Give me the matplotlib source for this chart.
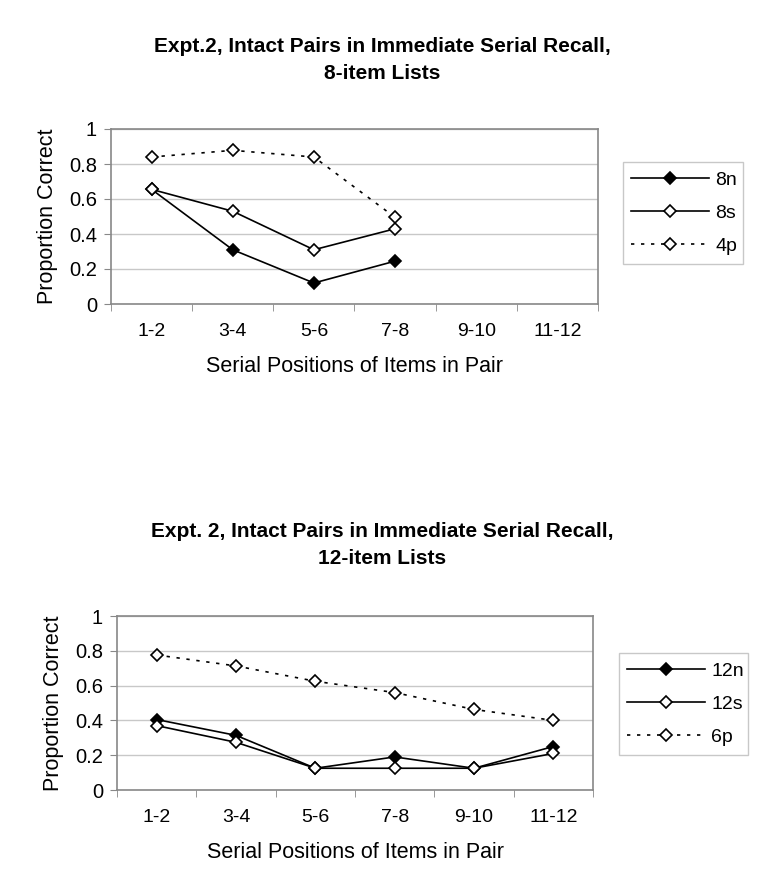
import numpy as np
import matplotlib.pyplot as plt

plt.rcParams['font.family'] = ['Liberation Sans', 'DejaVu Sans']

posiciones = ['1-2', '3-4', '5-6', '7-8', '9-10', '11-12']

# Expt. 2, listas de 8 items
n8 = [0.655, 0.31, 0.12, 0.245]
s8 = [0.655, 0.53, 0.31, 0.43]
p4 = [0.84, 0.878, 0.84, 0.495]

# Expt. 2, listas de 12 items
n12 = [0.405, 0.314, 0.125, 0.19, 0.125, 0.25]
s12 = [0.37, 0.274, 0.125, 0.125, 0.125, 0.21]
p6 = [0.776, 0.713, 0.625, 0.56, 0.463, 0.40]

W, H = 764, 894
fig = plt.figure(figsize=(W / 100, H / 100), dpi=100)


def panel(rect, series, labels, titulo, ty, legrect):
    ax = fig.add_axes(rect)
    estilos = [('-', 'black'), ('-', 'white'), ((0, (2, 4)), 'white')]
    for vals, lab, (ls, fc) in zip(series, labels, estilos):
        x = np.arange(len(vals))
        ax.plot(x, vals, linestyle=ls, color='black', lw=1.2, marker='D',
                markersize=6.5, markerfacecolor=fc, markeredgecolor='black',
                markeredgewidth=1.2, label=lab)
    ax.set_xlim(-0.5, 5.5)
    ax.set_ylim(0, 1)
    ax.set_yticks(np.arange(0, 1.01, 0.2))
    ax.set_yticklabels(['0', '0.2', '0.4', '0.6', '0.8', '1'], fontsize=14.5)
    ax.set_xticks(np.arange(6))
    ax.set_xticklabels(posiciones, fontsize=14)
    ax.set_xticks(np.arange(-0.5, 6, 1), minor=True)
    ax.tick_params(axis='x', which='major', length=0, pad=14)
    ax.tick_params(axis='x', which='minor', length=5, color='#888888', direction='out')
    ax.tick_params(axis='y', length=5, color='#888888', direction='out', pad=5)
    ax.grid(axis='y', color='#c8c8c8', lw=1)
    ax.set_axisbelow(True)
    for sp in ax.spines.values():
        sp.set_color('#888888')
        sp.set_linewidth(1.2)
    ax.set_ylabel('Proportion Correct', fontsize=15.5, labelpad=8)
    ax.set_xlabel('Serial Positions of Items in Pair', fontsize=15.5, labelpad=11)
    fig.text(0.5, ty, titulo, ha='center', va='center', fontsize=15,
             fontweight='bold', linespacing=1.5)
    lax = fig.add_axes(legrect)
    lax.axis('off')
    h, l = ax.get_legend_handles_labels()
    lax.legend(h, l, loc='center', fontsize=14, frameon=True, fancybox=False,
               edgecolor='#bbbbbb', handlelength=4.0, handletextpad=0.3,
               labelspacing=0.8, borderpad=0.45, mode='expand',
               bbox_to_anchor=(0, 0, 1, 1))
    return ax


def r(x0, y0, x1, y1):
    return [x0 / W, 1 - y1 / H, (x1 - x0) / W, (y1 - y0) / H]


panel(r(111, 129, 598, 304), [n8, s8, p4], ['8n', '8s', '4p'],
      'Expt.2, Intact Pairs in Immediate Serial Recall,\n8-item Lists',
      1 - 60 / H, r(613, 168, 753, 258))
panel(r(117, 616, 593, 790), [n12, s12, p6], ['12n', '12s', '6p'],
      'Expt. 2, Intact Pairs in Immediate Serial Recall,\n12-item Lists',
      1 - 545 / H, r(609, 654, 758, 754))

fig.savefig('out.png', dpi=100)
